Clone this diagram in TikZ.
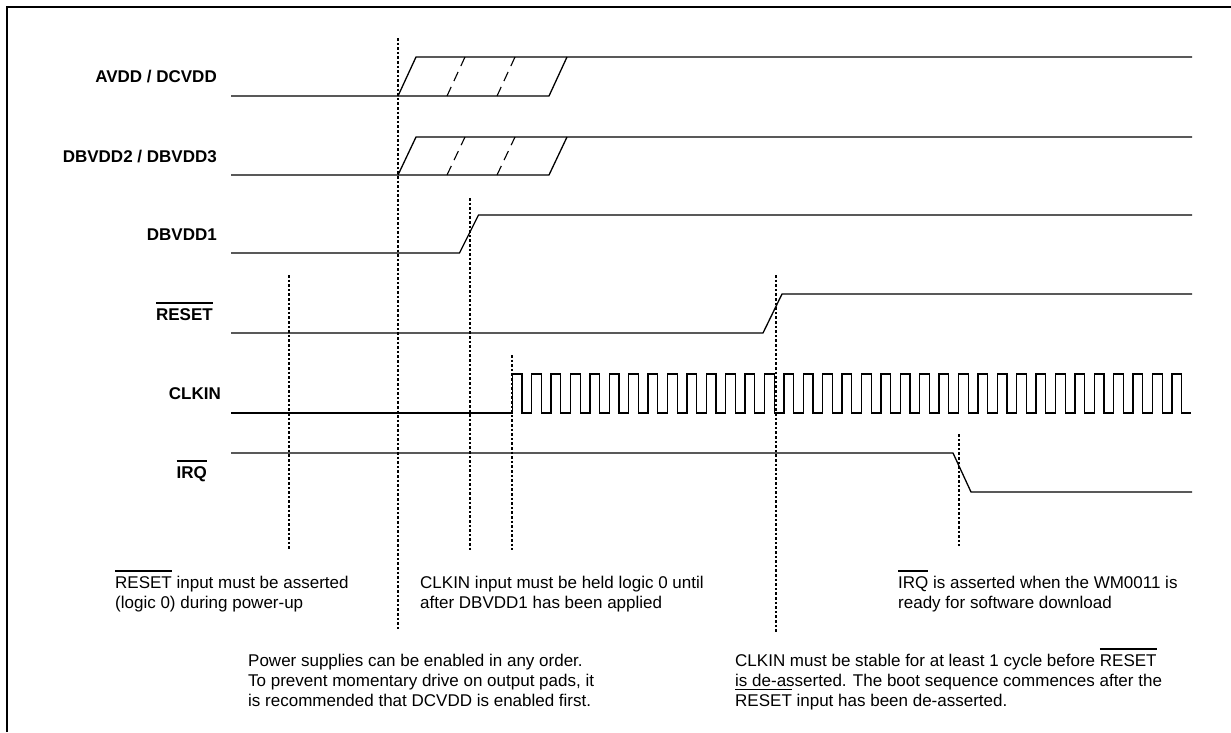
\documentclass[tikz,border=0pt]{standalone}
\usepackage{fontspec}
\setmainfont{Liberation Sans}
\newcommand\myovl[1]{\leavevmode\setbox0\hbox{#1}\rlap{\vrule height\dimexpr\ht0+6.2pt\relax depth\dimexpr-\ht0-4.5pt\relax width\wd0}\box0\relax}
\begin{document}
\begin{tikzpicture}[x=1pt,y=-1pt,
  sig/.style={line width=1.3pt,line join=miter},
  vline/.style={line width=2.4pt,dash pattern=on 2.6pt off 2pt},
  dsh/.style={line width=1.1pt,dash pattern=on 10pt off 6.5pt},
  lab/.style={font=\fontsize{17}{20}\selectfont\bfseries,inner sep=0pt,anchor=base east},
  txt/.style={font=\fontsize{17}{20}\selectfont,inner sep=0pt,anchor=base west}]
\useasboundingbox (0,0) rectangle (1231,732);
% frame
\draw[line width=1.3pt] (7,732) -- (7,7) -- (1231,7);
% labels
\node[lab] (lAVDD) at (217,82.6) {AVDD / DCVDD};
\node[lab] (lDBV23) at (217,162) {DBVDD2 / DBVDD3};
\node[lab] (lDBV1) at (217,240) {DBVDD1};
\node[lab] (lRST) at (213,320) {\myovl{RESET}};
\node[lab] (lCLK) at (221,399.6) {CLKIN};
\node[lab] (lIRQ) at (207,478) {\myovl{IRQ}};
% AVDD / DCVDD
\draw[sig] (231,96) -- (549,96) -- (567,57);
\draw[sig] (398,96) -- (416,57) -- (1192,57);
\draw[dsh] (447,96) -- (465,57);
\draw[dsh] (497,96) -- (515,57);
% DBVDD2 / DBVDD3
\draw[sig] (231,175) -- (549,175) -- (567,137);
\draw[sig] (398,175) -- (416,137) -- (1192,137);
\draw[dsh] (447,175) -- (465,137);
\draw[dsh] (497,175) -- (515,137);
% DBVDD1
\draw[sig] (231,253) -- (459.5,253) -- (478.5,215) -- (1192,215);
% RESET
\draw[sig] (231,333) -- (763,333) -- (782,294) -- (1192,294);
% CLKIN
\draw[sig] (231,413) -- (512.3,413)
  \foreach \k in {0,...,34}{ -- ++(0,-39) -- ++(9.7,0) -- ++(0,39) -- ++(9.7,0) };
% IRQ
\draw[sig] (231,453) -- (953,453) -- (971,492) -- (1192,492);
% dotted markers
\draw[vline] (289,275) -- (289,550);
\draw[vline] (398,38) -- (398,630);
\draw[vline] (470,198) -- (470,550);
\draw[vline] (512,355) -- (512,550);
\draw[vline] (776,275) -- (776,632);
\draw[vline] (959,434) -- (959,546);
% notes
\node[txt] (n1a) at (115,588) {\myovl{RESET} input must be asserted};
\node[txt] (n1b) at (115,608.3) {(logic 0) during power-up};
\node[txt] (n2a) at (420,588) {CLKIN input must be held logic 0 until};
\node[txt] (n2b) at (420,608.3) {after DBVDD1 has been applied};
\node[txt] (n3a) at (898,588) {\myovl{IRQ} is asserted when the WM0011 is};
\node[txt] (n3b) at (898,608.3) {ready for software download};
\node[txt] (n4a) at (248,666) {Power supplies can be enabled in any order.};
\node[txt] (n4b) at (248,686.3) {To prevent momentary drive on output pads, it};
\node[txt] (n4c) at (248,706.6) {is recommended that DCVDD is enabled first.};
\node[txt] (n5a) at (735,666) {CLKIN must be stable for at least 1 cycle before \myovl{RESET}};
\node[txt] (n5b) at (735,686.3) {is de-asserted. The boot sequence commences after the};
\node[txt] (n5c) at (735,706.6) {\myovl{RESET} input has been de-asserted.};
\end{tikzpicture}
\end{document}
